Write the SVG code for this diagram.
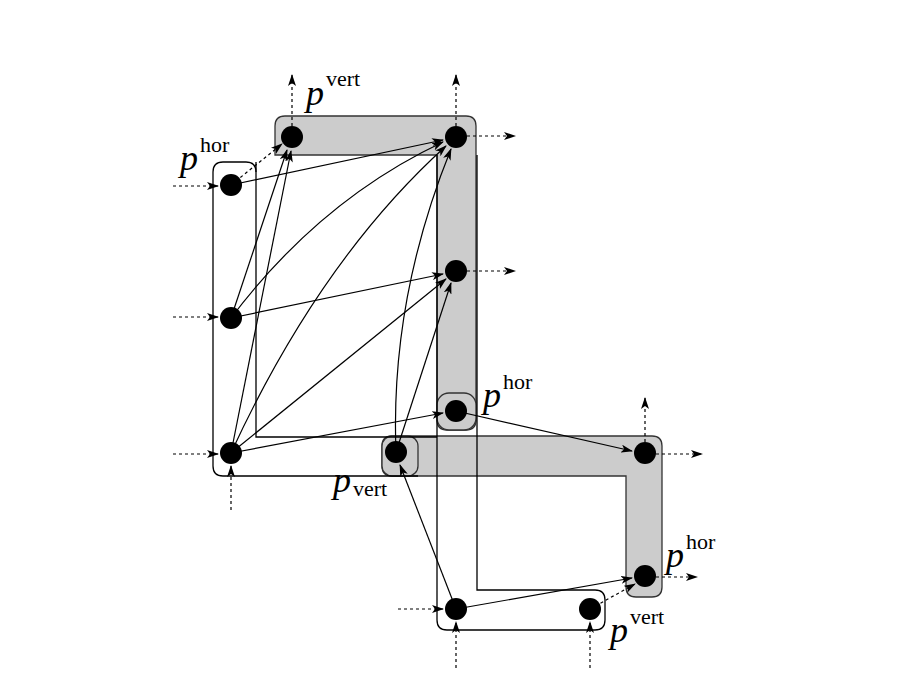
<svg xmlns="http://www.w3.org/2000/svg" width="900" height="688" viewBox="0 0 900 688">
<style>
.g{fill:#cccccc;stroke:#333;stroke-width:1.3}
.o{fill:none;stroke:#000;stroke-width:1.3}
.e{fill:none;stroke:#000;stroke-width:1.2;marker-end:url(#a)}
.d{fill:none;stroke:#000;stroke-width:1.2;stroke-dasharray:3,3;marker-end:url(#a)}
.n{fill:#000}
.p{font-family:"Liberation Serif",serif;font-style:italic;font-size:36px}
.s{font-family:"Liberation Serif",serif;font-size:22px}
</style>
<defs><marker id="a" viewBox="0 0 12 8" refX="11" refY="4" markerWidth="12" markerHeight="8" markerUnits="userSpaceOnUse" orient="auto"><path d="M0,0 L12,4 L0,8 L3,4 Z"/></marker></defs>
<rect width="900" height="688" fill="#fff"/>
<g id="regions">
<path class="g" d="M285,116 H466 Q476,116 476,126 V420 Q476,430 466,430 H447 Q437,430 437,420 V155 H275 V126 Q275,116 285,116 Z"/>
<rect class="g" x="437" y="393" width="39" height="37" rx="12"/>
<path class="g" d="M392,436 H652 Q662,436 662,446 V587 Q662,597 652,597 H636 Q626,597 626,587 V476 H392 Q382,476 382,466 V446 Q382,436 392,436 Z"/>
<rect class="g" x="382" y="436" width="36" height="40" rx="10"/>
<path class="o" d="M223,162 H246 Q256,162 256,172 V437 H437"/>
<path class="o" d="M256,172 V162 M223,162 Q213,162 213,172 V466 Q213,476 223,476 H418"/>
<path class="o" d="M437,155 V620 Q437,630 447,630 H595 Q605,630 605,620 V600 Q605,590 595,590 H477 V155"/>
</g>
<g id="connectors">
<line class="e" x1="231" y1="185" x2="443" y2="140"/>
<line class="e" x1="231" y1="318" x2="287" y2="150"/>
<path class="e" d="M231,318 Q320,200 443,142"/>
<line class="e" x1="231" y1="318" x2="443" y2="274"/>
<line class="e" x1="231" y1="453" x2="291" y2="151"/>
<path class="e" d="M231,453 Q320,260 446,146"/>
<line class="e" x1="231" y1="453" x2="446" y2="279"/>
<line class="e" x1="231" y1="453" x2="443" y2="413"/>
<path class="e" d="M396,452 Q390,300 451,149"/>
<line class="e" x1="396" y1="452" x2="451" y2="283"/>
<line class="e" x1="456" y1="411" x2="632" y2="451"/>
<line class="e" x1="456" y1="609" x2="400" y2="465"/>
<line class="e" x1="456" y1="609" x2="632" y2="578"/>
<line class="d" x1="231" y1="185" x2="282" y2="144"/>
<line class="d" x1="590" y1="609" x2="635" y2="584"/>
<line class="d" x1="173" y1="186" x2="218" y2="186"/>
<line class="d" x1="173" y1="317" x2="218" y2="317"/>
<line class="d" x1="173" y1="454" x2="218" y2="454"/>
<line class="d" x1="231" y1="510" x2="231" y2="466"/>
<line class="d" x1="398" y1="609" x2="443" y2="609"/>
<line class="d" x1="456" y1="668" x2="456" y2="622"/>
<line class="d" x1="590" y1="668" x2="590" y2="622"/>
<line class="d" x1="292" y1="126" x2="292" y2="75"/>
<line class="d" x1="456" y1="126" x2="456" y2="75"/>
<line class="d" x1="467" y1="136" x2="515" y2="136"/>
<line class="d" x1="467" y1="271" x2="515" y2="271"/>
<line class="d" x1="645" y1="442" x2="645" y2="398"/>
<line class="d" x1="656" y1="454" x2="702" y2="454"/>
<line class="d" x1="656" y1="577" x2="697" y2="577"/>
</g>
<g id="nodes">
<circle id="nA" class="n" cx="231" cy="185" r="11"/>
<circle id="nB" class="n" cx="231" cy="318" r="11"/>
<circle id="nC" class="n" cx="231" cy="453" r="11"/>
<circle id="nD" class="n" cx="292" cy="137" r="11"/>
<circle id="nE" class="n" cx="456" cy="137" r="11"/>
<circle id="nF" class="n" cx="456" cy="271" r="11"/>
<circle id="nG" class="n" cx="456" cy="411" r="11"/>
<circle id="nH" class="n" cx="396" cy="452" r="11"/>
<circle id="nI" class="n" cx="645" cy="453" r="11"/>
<circle id="nJ" class="n" cx="645" cy="576" r="11"/>
<circle id="nK" class="n" cx="456" cy="609" r="11"/>
<circle id="nL" class="n" cx="590" cy="609" r="11"/>
</g>
<g id="labels">
<text class="p" x="180" y="170">p</text><text class="s" x="200" y="152">hor</text>
<text class="p" x="306" y="105">p</text><text class="s" x="326" y="86">vert</text>
<text class="p" x="483" y="407">p</text><text class="s" x="503" y="389">hor</text>
<text class="p" x="333" y="492">p</text><text class="s" x="353" y="496" dy="0">vert</text>
<text class="p" x="666" y="567">p</text><text class="s" x="686" y="549">hor</text>
<text class="p" x="610" y="642">p</text><text class="s" x="630" y="624">vert</text>
</g>
</svg>
